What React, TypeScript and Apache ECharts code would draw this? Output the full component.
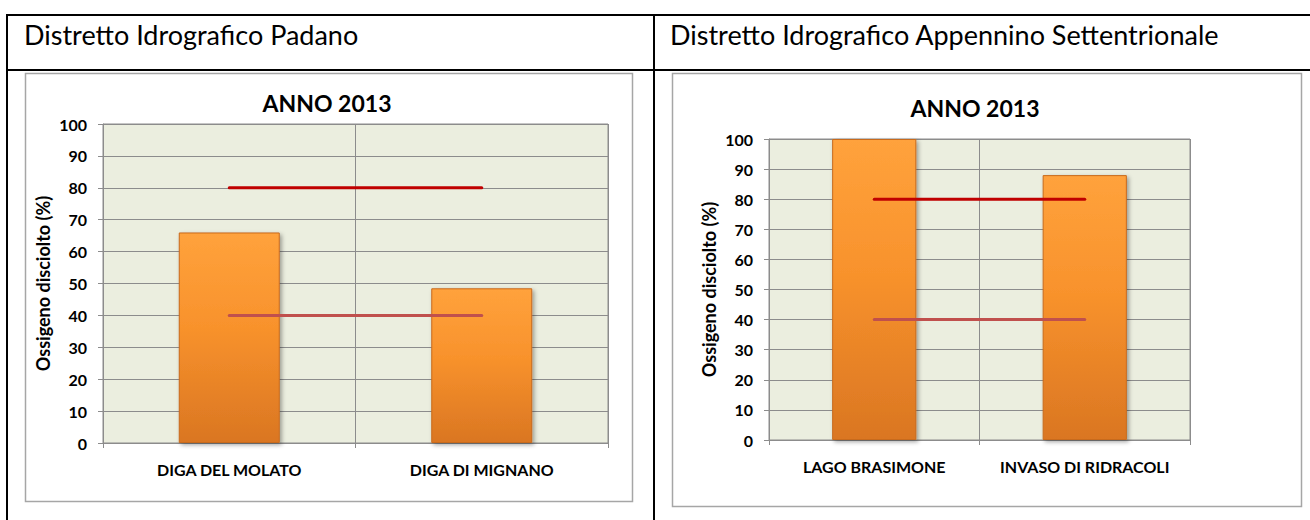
import React, { useEffect, useRef } from "react";
import * as echarts from "echarts";

const headerLeft = "Distretto Idrografico Padano";
const headerRight = "Distretto Idrografico Appennino Settentrionale";
const chartTitle = "ANNO 2013";
const yAxisName = "Ossigeno disciolto (%)";

const categoriesLeft = ["DIGA DEL MOLATO", "DIGA DI MIGNANO"];
const valuesLeft = [66, 48.5];
const categoriesRight = ["LAGO BRASIMONE", "INVASO DI RIDRACOLI"];
const valuesRight = [100, 88];

const upperThreshold = [80, 80];
const lowerThreshold = [40, 40];

const FONT = "Lato, 'Open Sans', sans-serif";

export default function App() {
  const ref = useRef<HTMLDivElement>(null);

  useEffect(() => {
    if (!ref.current) return;
    const chart = echarts.init(ref.current, undefined, { renderer: "svg" });

    const barColor = new echarts.graphic.LinearGradient(0, 0, 0, 1, [
      { offset: 0, color: "#FFA23C" },
      { offset: 0.45, color: "#F8922C" },
      { offset: 1, color: "#DA7622" },
    ]);

    const yAxisBase = (gridIndex: number, gap: number) => ({
      type: "value",
      gridIndex,
      min: 0,
      max: 100,
      interval: 10,
      name: yAxisName,
      nameLocation: "middle",
      nameGap: gap,
      nameRotate: 90,
      nameTextStyle: { fontFamily: FONT, fontWeight: "bold", fontSize: 18, color: "#000" },
      axisLine: { show: true, lineStyle: { color: "#8C8C8C", width: 1 } },
      axisTick: { show: true, length: 5, lineStyle: { color: "#8C8C8C" } },
      axisLabel: { fontFamily: FONT, fontWeight: "bold", fontSize: 16, color: "#000", margin: 16 },
      splitLine: { show: true, lineStyle: { color: "#8C8C8C", width: 1 } },
    });

    const xAxisBase = (gridIndex: number, data: string[]) => ({
      type: "category",
      gridIndex,
      data,
      boundaryGap: true,
      axisLine: { show: true, lineStyle: { color: "#8C8C8C", width: 1 } },
      axisTick: { show: true, length: 5, interval: 0, lineStyle: { color: "#8C8C8C" } },
      axisLabel: {
        fontFamily: FONT,
        fontWeight: "bold",
        fontSize: 16,
        color: "#000",
        margin: 18,
        interval: 0,
        hideOverlap: false,
      },
      splitLine: { show: true, interval: 0, lineStyle: { color: "#8C8C8C", width: 1 } },
    });

    const barSeries = (idx: number, data: number[]) => ({
      type: "bar",
      xAxisIndex: idx,
      yAxisIndex: idx,
      data,
      barWidth: "40%",
      itemStyle: {
        color: barColor,
        borderColor: "#C86A1C",
        borderWidth: 1,
        shadowColor: "rgba(0,0,0,0.35)",
        shadowBlur: 4,
        shadowOffsetX: 2,
        shadowOffsetY: 2,
      },
    });

    const lineSeries = (idx: number, data: number[], color: string) => ({
      type: "line",
      xAxisIndex: idx,
      yAxisIndex: idx,
      data,
      showSymbol: false,
      symbol: "none",
      lineStyle: { color, width: 3, cap: "round" },
      z: 5,
    });

    chart.setOption({
      animation: false,
      backgroundColor: "#fff",
      grid: [
        {
          left: 103,
          top: 124,
          width: 505,
          height: 319,
          show: true,
          backgroundColor: "#EBEEDF",
          borderColor: "#8C8C8C",
          borderWidth: 1,
        },
        {
          left: 769,
          top: 139,
          width: 421,
          height: 301,
          show: true,
          backgroundColor: "#EBEEDF",
          borderColor: "#8C8C8C",
          borderWidth: 1,
        },
      ],
      xAxis: [xAxisBase(0, categoriesLeft), xAxisBase(1, categoriesRight)],
      yAxis: [yAxisBase(0, 51), yAxisBase(1, 51)],
      series: [
        barSeries(0, valuesLeft),
        lineSeries(0, upperThreshold, "#C00000"),
        lineSeries(0, lowerThreshold, "#C0504D"),
        barSeries(1, valuesRight),
        lineSeries(1, upperThreshold, "#C00000"),
        lineSeries(1, lowerThreshold, "#C0504D"),
      ],
      graphic: [
        // table borders
        { type: "line", shape: { x1: 6, y1: 15, x2: 1310, y2: 15 }, style: { stroke: "#000", lineWidth: 2 } },
        { type: "line", shape: { x1: 6, y1: 70, x2: 1310, y2: 70 }, style: { stroke: "#000", lineWidth: 2 } },
        { type: "line", shape: { x1: 7, y1: 14, x2: 7, y2: 520 }, style: { stroke: "#000", lineWidth: 2 } },
        { type: "line", shape: { x1: 654, y1: 14, x2: 654, y2: 520 }, style: { stroke: "#000", lineWidth: 2 } },
        // chart frames
        {
          type: "rect",
          shape: { x: 25.5, y: 73.5, width: 607, height: 428 },
          style: { fill: "none", stroke: "#A6A6A6", lineWidth: 1.5 },
          z: -1,
        },
        {
          type: "rect",
          shape: { x: 672.5, y: 73.5, width: 629, height: 433 },
          style: { fill: "none", stroke: "#A6A6A6", lineWidth: 1.5 },
          z: -1,
        },
        // headers
        {
          type: "text",
          x: 24,
          y: 34,
          style: { text: headerLeft, fontFamily: FONT, fontSize: 27, fill: "#000", textVerticalAlign: "middle" },
        },
        {
          type: "text",
          x: 670,
          y: 34,
          style: { text: headerRight, fontFamily: FONT, fontSize: 27, fill: "#000", textVerticalAlign: "middle" },
        },
        // titles
        {
          type: "text",
          x: 327,
          y: 103,
          style: {
            text: chartTitle,
            fontFamily: FONT,
            fontSize: 23,
            fontWeight: "bold",
            fill: "#000",
            textAlign: "center",
            textVerticalAlign: "middle",
          },
        },
        {
          type: "text",
          x: 975,
          y: 108,
          style: {
            text: chartTitle,
            fontFamily: FONT,
            fontSize: 23,
            fontWeight: "bold",
            fill: "#000",
            textAlign: "center",
            textVerticalAlign: "middle",
          },
        },
      ],
    });

    return () => chart.dispose();
  }, []);

  return (
    <div
      ref={ref}
      style={{ position: "absolute", left: 0, top: 0, width: 1310, height: 520 }}
    />
  );
}
